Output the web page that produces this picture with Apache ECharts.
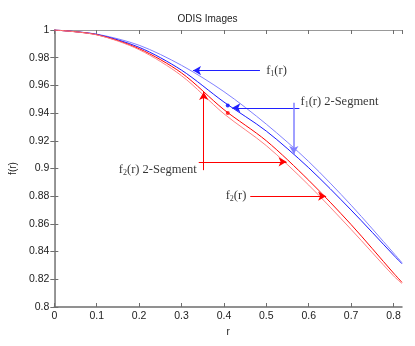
<!DOCTYPE html>
<html>
<head>
<meta charset="utf-8">
<script src="https://cdn.jsdelivr.net/npm/echarts@6/dist/echarts.min.js"></script>
<style>
  html, body { margin: 0; padding: 0; background: #fff; }
  #chart { width: 415px; height: 346px; }
</style>
</head>
<body>
<div id="chart"></div>
<script>
// r values (x axis)
const rVals = [0, 0.1, 0.2, 0.3, 0.4, 0.5, 0.6, 0.7, 0.8, 0.82]
// curves
const f1 = [1, 0.997, 0.989, 0.9745, 0.9555, 0.932, 0.905, 0.8735, 0.839, 0.832]
const f1Seg = [1, 0.9968, 0.9875, 0.971, 0.948, 0.927, 0.9005, 0.870, 0.8375, 0.8312]
const f2Seg = [1, 0.9966, 0.9865, 0.969, 0.9425, 0.920, 0.8915, 0.8595, 0.8245, 0.8178]
const f2 = [1, 0.9965, 0.9858, 0.967, 0.9395, 0.9165, 0.888, 0.856, 0.8225, 0.817]
// segment break dots
const blueDots = [[0.409, 0.9455]]
const redDots = [[0.409, 0.940]]
// annotation arrows [from, to]
const blueArrows = [
  [[0.485, 0.9707], [0.327, 0.9707]],
  [[0.578, 0.9438], [0.4198, 0.9438]]
]
const blueVArrows = [
  [[0.5648, 0.9475], [0.5648, 0.9104]]
]
const redArrows = [
  [[0.3523, 0.8988], [0.3523, 0.9552]],
  [[0.3406, 0.9048], [0.5478, 0.9048]],
  [[0.4621, 0.880], [0.641, 0.880]]
]
// labels [r, f, text, side]
const labels = [
  [0.495, 0.9707, '{m|f}{s|1}{m|(r)}', 'right'],
  [0.5758, 0.948, '{m|f}{s|1}{m|(r) 2-Segment}', 'right'],
  [0.3406, 0.8988, '{m|f}{s|2}{m|(r) 2-Segment}', 'left'],
  [0.4575, 0.880, '{m|f}{s|2}{m|(r)}', 'left']
]

const pairs = (ys) => rVals.map((r, i) => [r, ys[i]])
const toLines = (arr) => arr.map(a => [{ coord: a[0] }, { coord: a[1] }])

const axisColor = '#6e6e6e'
const chart = echarts.init(document.getElementById('chart'))

const option = {
  animation: false,
  title: {
    text: 'ODIS Images',
    left: 'center',
    top: 9,
    textStyle: { fontSize: 10, fontWeight: 'normal', color: '#222', fontFamily: 'Liberation Sans' }
  },
  grid: { left: 50, right: 13, top: 30, bottom: 39 },
  xAxis: [{
    type: 'value',
    min: 0,
    max: 0.82,
    interval: 0.1,
    name: 'r',
    nameLocation: 'middle',
    nameGap: 20,
    nameTextStyle: { fontSize: 10, color: '#222', fontFamily: 'Liberation Sans' },
    axisLine: { lineStyle: { color: axisColor, width: 1.5 } },
    axisTick: { inside: true, length: 4, lineStyle: { color: axisColor } },
    axisLabel: { showMaxLabel: false, fontSize: 10.5, color: '#222', margin: 4, fontFamily: 'Liberation Sans' },
    splitLine: { show: false }
  }, {
    type: 'value',
    position: 'top',
    min: 0,
    max: 0.82,
    interval: 0.1,
    axisLine: { lineStyle: { color: '#999', width: 1 } },
    axisTick: { inside: true, length: 4, lineStyle: { color: axisColor } },
    axisLabel: { show: false },
    splitLine: { show: false }
  }],
  yAxis: [{
    type: 'value',
    min: 0.8,
    max: 1,
    interval: 0.02,
    name: 'f(r)',
    nameLocation: 'middle',
    nameGap: 28,
    nameTextStyle: { fontSize: 10, color: '#222', fontFamily: 'Liberation Sans' },
    axisLine: { lineStyle: { color: axisColor, width: 1.5 } },
    axisTick: { inside: true, length: 4, lineStyle: { color: axisColor } },
    axisLabel: { fontSize: 10.5, color: '#222', margin: 5, fontFamily: 'Liberation Sans' },
    splitLine: { show: false }
  }, {
    type: 'value',
    position: 'right',
    min: 0.8,
    max: 1,
    interval: 0.02,
    axisLine: { show: true, lineStyle: { color: '#999', width: 1 } },
    axisTick: { show: true, inside: true, length: 4, lineStyle: { color: axisColor } },
    axisLabel: { show: false },
    splitLine: { show: false }
  }],
  series: [
    {
      name: 'f1',
      type: 'line',
      data: pairs(f1),
      smooth: 0.3,
      symbol: 'none',
      lineStyle: { color: '#8080ff', width: 1 },
      markLine: {
        silent: true,
        symbol: ['none', 'arrow'],
        symbolSize: [7, 8],
        label: { show: false },
        lineStyle: { color: '#2020ff', width: 1, type: 'solid' },
        data: toLines(blueArrows)
      }
    },
    {
      name: 'f1 2-Segment',
      type: 'line',
      data: pairs(f1Seg),
      smooth: 0.3,
      symbol: 'none',
      lineStyle: { color: '#1a1aff', width: 1 },
      markLine: {
        silent: true,
        symbol: ['none', 'arrow'],
        symbolSize: [7, 8],
        label: { show: false },
        lineStyle: { color: '#8080ff', width: 1.5, type: 'solid' },
        data: toLines(blueVArrows)
      }
    },
    {
      name: 'f2 2-Segment',
      type: 'line',
      data: pairs(f2Seg),
      smooth: 0.3,
      symbol: 'none',
      lineStyle: { color: '#ff0000', width: 1 },
      markLine: {
        silent: true,
        symbol: ['none', 'arrow'],
        symbolSize: [7, 8],
        label: { show: false },
        lineStyle: { color: '#ff0000', width: 1, type: 'solid' },
        data: toLines(redArrows)
      }
    },
    {
      name: 'f2',
      type: 'line',
      data: pairs(f2),
      smooth: 0.3,
      symbol: 'none',
      lineStyle: { color: '#ff8080', width: 1 }
    },
    {
      type: 'scatter',
      data: blueDots,
      symbolSize: 4,
      itemStyle: { color: '#0000ff' }
    },
    {
      type: 'scatter',
      data: redDots,
      symbolSize: 4,
      itemStyle: { color: '#ff0000' }
    },
    {
      type: 'scatter',
      data: labels.map(l => ({
        value: [l[0], l[1]],
        label: { position: l[3], formatter: l[2] }
      })),
      symbolSize: 0,
      silent: true,
      label: {
        show: true,
        distance: 2,
        color: '#000',
        rich: {
          m: { fontFamily: 'Liberation Serif', fontSize: 12.5, color: '#000' },
          s: { fontFamily: 'Liberation Serif', fontSize: 8, color: '#000', padding: [6, 0, 0, 0] }
        }
      }
    }
  ]
}
chart.setOption(option)
</script>
</body>
</html>
